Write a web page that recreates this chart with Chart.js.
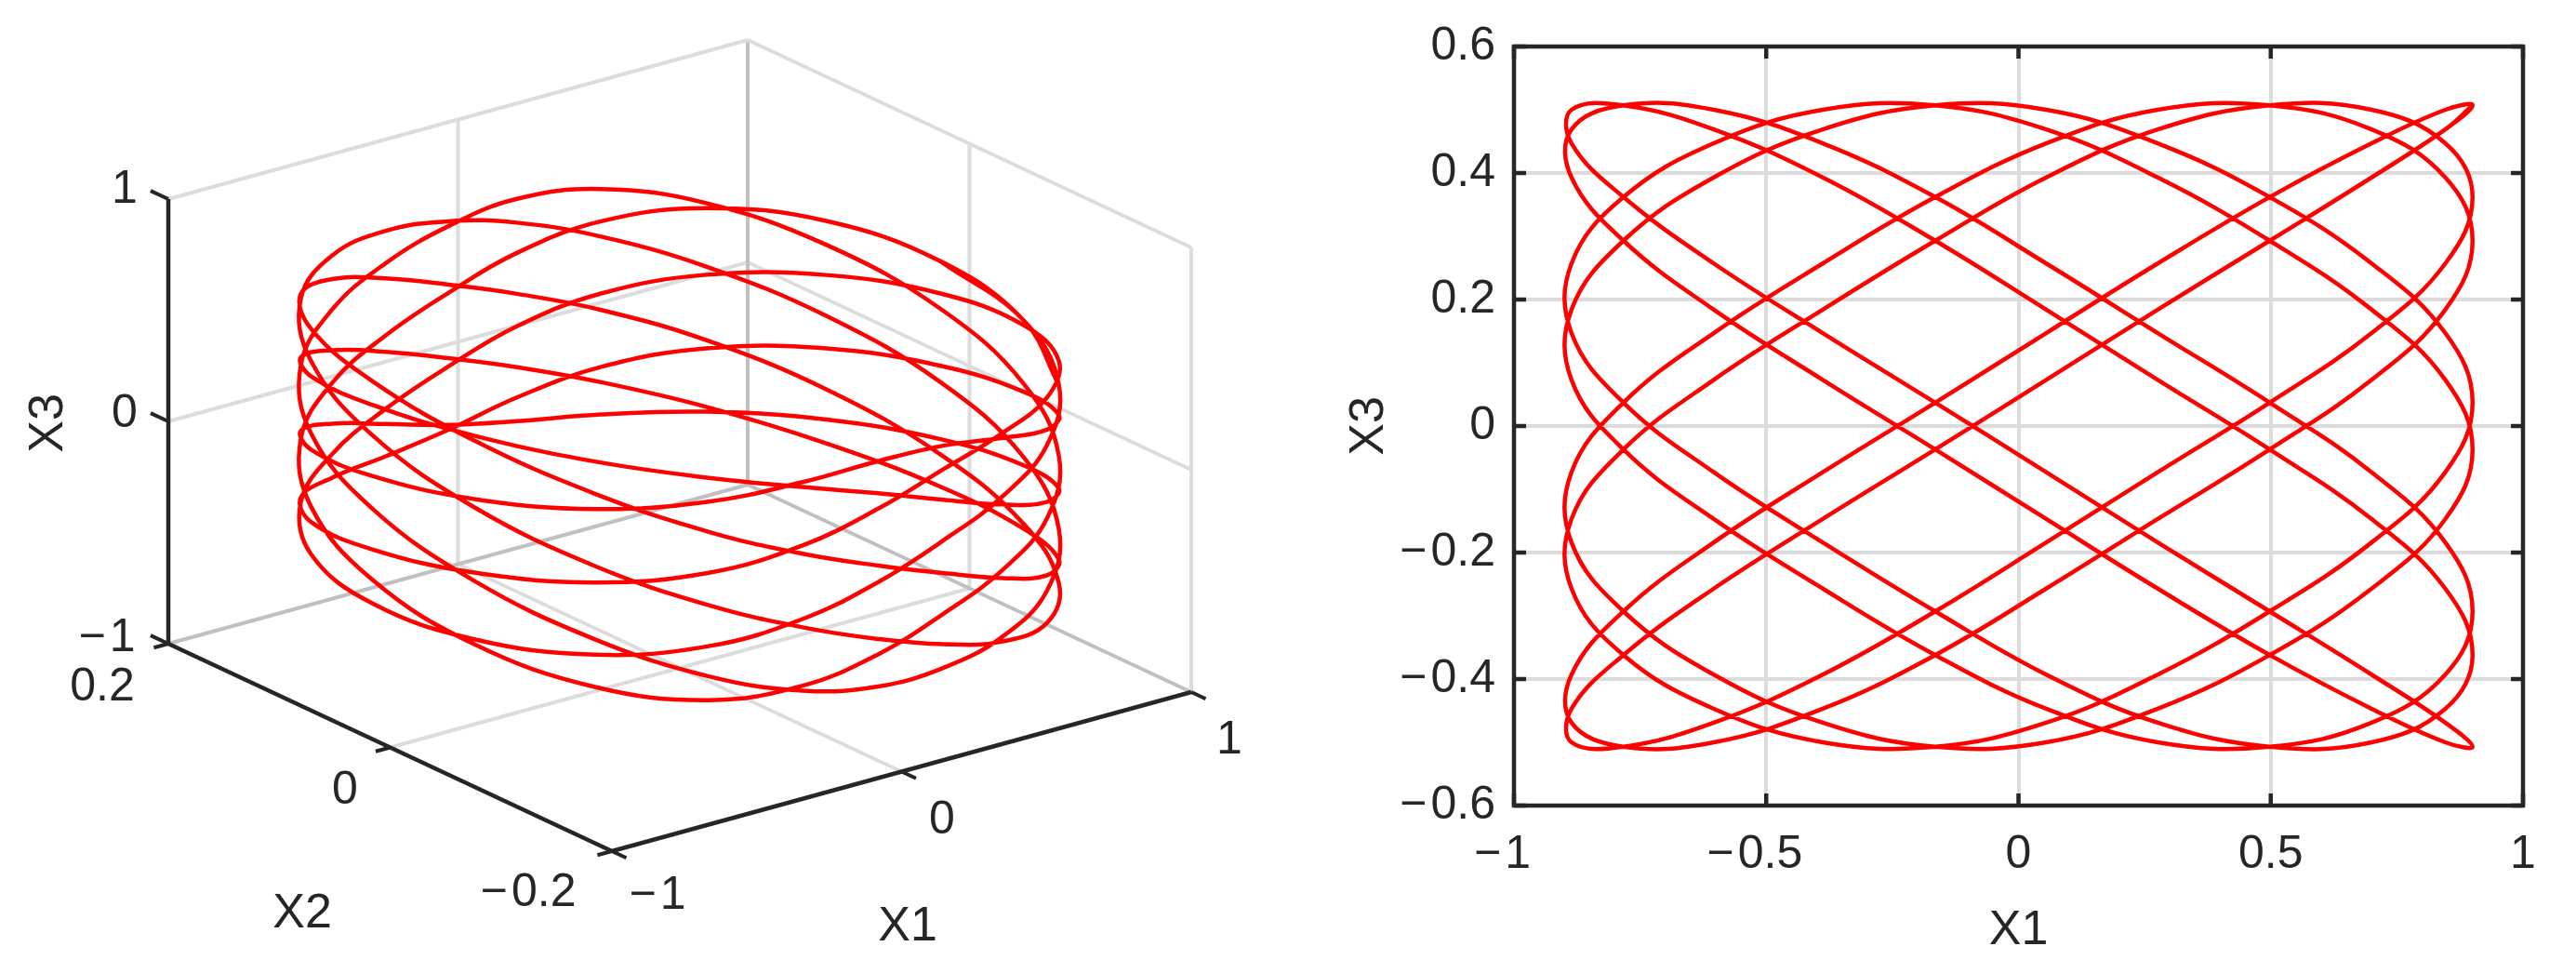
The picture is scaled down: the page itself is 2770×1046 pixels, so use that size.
<!DOCTYPE html>
<html>
<head>
<meta charset="utf-8">
<style>
  html, body { margin: 0; padding: 0; background: #fff; width: 2770px; height: 1046px; overflow: hidden; }
  canvas { position: absolute; top: 0; }
  #left3d { left: 0; }
  #right2d { left: 1385px; }
</style>
<script src="https://cdn.jsdelivr.net/npm/chart.js@4"></script>
</head>
<body>
<canvas id="left3d" width="1385" height="1046"></canvas>
<canvas id="right2d" width="1385" height="1046"></canvas>
<script>
// trajectory
const x1Values = [
  0.9,0.846,0.7,0.498,0.276,0.055,-0.165,-0.388,-0.604,-0.783,-0.886,-0.886,-0.783,-0.604,-0.388,-0.165,0.055,0.276,0.498,0.7,0.846,
  0.9,0.846,0.7,0.498,0.276,0.055,-0.165,-0.388,-0.604,-0.783,-0.886,-0.886,-0.783,-0.604,-0.388,-0.165,0.055,0.276,0.498,0.7,0.846,
  0.9,0.846,0.7,0.498,0.276,0.055,-0.165,-0.388,-0.604,-0.783,-0.886,-0.886,-0.783,-0.604,-0.388,-0.165,0.055,0.276,0.498,0.7,0.846,
  0.9,0.846,0.7,0.498,0.276,0.055,-0.165,-0.388,-0.604,-0.783,-0.886,-0.886,-0.783,-0.604,-0.388,-0.165,0.055,0.276,0.498,0.7,0.846,
  0.9,0.846,0.7,0.498,0.276,0.055,-0.165,-0.388,-0.604,-0.783,-0.886,-0.886,-0.783,-0.604,-0.388,-0.165,0.055,0.276,0.498,0.7,0.846,
  0.9,0.846,0.7,0.498,0.276,0.055,-0.165,-0.388,-0.604,-0.783,-0.886,-0.886,-0.783,-0.604,-0.388,-0.165,0.055,0.276,0.498,0.7,0.846,
  0.9,0.846,0.7,0.498,0.276,0.055,-0.165,-0.388,-0.604,-0.783,-0.886,-0.886,-0.783,-0.604,-0.388,-0.165,0.055,0.276,0.498,0.7,0.846,
  0.9,0.846,0.7,0.498,0.276,0.055,-0.165,-0.388,-0.604,-0.783,-0.886,-0.886,-0.783,-0.604,-0.388,-0.165,0.055,0.276,0.498,0.7,0.846
];
const x2Values = [
  0,-0.089,-0.159,-0.201,-0.219,-0.223,-0.222,-0.212,-0.184,-0.128,-0.046,0.046,0.128,0.184,0.212,0.222,0.223,0.219,0.201,0.159,0.089,
  0,-0.089,-0.159,-0.201,-0.219,-0.223,-0.222,-0.212,-0.184,-0.128,-0.046,0.046,0.128,0.184,0.212,0.222,0.223,0.219,0.201,0.159,0.089,
  0,-0.089,-0.159,-0.201,-0.219,-0.223,-0.222,-0.212,-0.184,-0.128,-0.046,0.046,0.128,0.184,0.212,0.222,0.223,0.219,0.201,0.159,0.089,
  0,-0.089,-0.159,-0.201,-0.219,-0.223,-0.222,-0.212,-0.184,-0.128,-0.046,0.046,0.128,0.184,0.212,0.222,0.223,0.219,0.201,0.159,0.089,
  0,-0.089,-0.159,-0.201,-0.219,-0.223,-0.222,-0.212,-0.184,-0.128,-0.046,0.046,0.128,0.184,0.212,0.222,0.223,0.219,0.201,0.159,0.089,
  0,-0.089,-0.159,-0.201,-0.219,-0.223,-0.222,-0.212,-0.184,-0.128,-0.046,0.046,0.128,0.184,0.212,0.222,0.223,0.219,0.201,0.159,0.089,
  0,-0.089,-0.159,-0.201,-0.219,-0.223,-0.222,-0.212,-0.184,-0.128,-0.046,0.046,0.128,0.184,0.212,0.222,0.223,0.219,0.201,0.159,0.089,
  0,-0.089,-0.159,-0.201,-0.219,-0.223,-0.222,-0.212,-0.184,-0.128,-0.046,0.046,0.128,0.184,0.212,0.222,0.223,0.219,0.201,0.159,0.089
];
const x3Values = [
  0.507,0.469,0.393,0.293,0.184,0.073,-0.037,-0.147,-0.257,-0.362,-0.447,-0.5,-0.507,-0.469,-0.393,-0.293,-0.184,-0.073,0.037,0.147,0.257,0.362,0.447,0.5,
  0.507,0.469,0.393,0.293,0.184,0.073,-0.037,-0.147,-0.257,-0.362,-0.447,-0.5,-0.507,-0.469,-0.393,-0.293,-0.184,-0.073,0.037,0.147,0.257,0.362,0.447,0.5,
  0.507,0.469,0.393,0.293,0.184,0.073,-0.037,-0.147,-0.257,-0.362,-0.447,-0.5,-0.507,-0.469,-0.393,-0.293,-0.184,-0.073,0.037,0.147,0.257,0.362,0.447,0.5,
  0.507,0.469,0.393,0.293,0.184,0.073,-0.037,-0.147,-0.257,-0.362,-0.447,-0.5,-0.507,-0.469,-0.393,-0.293,-0.184,-0.073,0.037,0.147,0.257,0.362,0.447,0.5,
  0.507,0.469,0.393,0.293,0.184,0.073,-0.037,-0.147,-0.257,-0.362,-0.447,-0.5,-0.507,-0.469,-0.393,-0.293,-0.184,-0.073,0.037,0.147,0.257,0.362,0.447,0.5,
  0.507,0.469,0.393,0.293,0.184,0.073,-0.037,-0.147,-0.257,-0.362,-0.447,-0.5,-0.507,-0.469,-0.393,-0.293,-0.184,-0.073,0.037,0.147,0.257,0.362,0.447,0.5,
  0.507,0.469,0.393,0.293,0.184,0.073,-0.037,-0.147,-0.257,-0.362,-0.447,-0.5,-0.507,-0.469,-0.393,-0.293,-0.184,-0.073,0.037,0.147,0.257,0.362,0.447,0.5
];

const x1Ticks3d = [-1, 0, 1];
const x2Ticks3d = [-0.2, 0, 0.2];
const x3Ticks3d = [-1, 0, 1];
const x1Ticks2d = [-1, -0.5, 0, 0.5, 1];
const x3Ticks2d = [-0.6, -0.4, -0.2, 0, 0.2, 0.4, 0.6];

const RED = '#ff0000';
const INK = '#262626';
const GRID = '#dcdcdc';
const GRID_DARK = '#c0c0c0';
const FONT = '"Liberation Sans", Arial, sans-serif';

Chart.defaults.font.family = FONT;
Chart.defaults.color = INK;
Chart.defaults.animation = false;

// minus with a small gap after it, as in the original labels
const fmt = v => String(v).replace('-', '\u2212\u200a');
// negative labels on the x axis sit a little left of their tick
const fmtX = v => (v < 0 ? fmt(v) + '\u2002' : fmt(v));

// 3d view: corners of the box as they sit on the page
function project(x1, x2, x3) {
  const a = (x1 + 1) / 2, b = (x2 + 0.2) / 0.4, c = (x3 + 1) / 2;
  return {
    x: 658 + a * 623 - b * 477,
    y: 915 - a * 171 - b * 223 - c * 478
  };
}

function edge(p, q, color, width) {
  return {
    data: [project(...p), project(...q)],
    borderColor: color,
    borderWidth: width,
    pointRadius: 0,
    tension: 0,
    showLine: true,
    order: 5
  };
}

const boxLines = [
  // walls and floor
  edge([-1, 0.2, 1], [1, 0.2, 1], GRID, 4),
  edge([1, 0.2, 1], [1, -0.2, 1], GRID, 4),
  edge([1, -0.2, -1], [1, -0.2, 1], GRID, 4),
  edge([1, 0.2, -1], [1, 0.2, 1], GRID_DARK, 4),
  edge([-1, 0.2, -1], [1, 0.2, -1], GRID_DARK, 4),
  edge([1, 0.2, -1], [1, -0.2, -1], GRID_DARK, 4)
];
x1Ticks3d.slice(1, 2).forEach(v => {
  boxLines.push(edge([v, 0.2, -1], [v, 0.2, 1], GRID, 4));
  boxLines.push(edge([v, 0.2, -1], [v, -0.2, -1], GRID, 4));
});
x2Ticks3d.slice(1, 2).forEach(v => {
  boxLines.push(edge([1, v, -1], [1, v, 1], GRID, 4));
  boxLines.push(edge([-1, v, -1], [1, v, -1], GRID, 4));
});
x3Ticks3d.slice(1, 2).forEach(v => {
  boxLines.push(edge([-1, 0.2, v], [1, 0.2, v], GRID, 4));
  boxLines.push(edge([1, 0.2, v], [1, -0.2, v], GRID, 4));
});

// axes in front
const axisLines = [
  edge([-1, 0.2, -1], [-1, 0.2, 1], INK, 4.5),
  edge([-1, 0.2, -1], [-1, -0.2, -1], INK, 4.5),
  edge([-1, -0.2, -1], [1, -0.2, -1], INK, 4.5)
];
x3Ticks3d.forEach(v => axisLines.push(edge([-1, 0.2, v], [-1, 0.216, v], INK, 4)));
x2Ticks3d.forEach(v => axisLines.push(edge([-1, v, -1], [-1.05, v, -1], INK, 4)));
x1Ticks3d.forEach(v => axisLines.push(edge([v, -0.2, -1], [v, -0.213, -1], INK, 4)));

const closeLoop = a => a.concat(a.slice(0, 3));

const curve3d = closeLoop(x1Values.map((v, i) => project(v, x2Values[i], x3Values[i])));
const curve2d = closeLoop(x1Values.map((v, i) => ({ x: v, y: x3Values[i] })));

// text of the 3d panel, in page pixels
const labels3d = [
  { text: x3Ticks3d[2], x: 134, y: 204, size: 50 },
  { text: x3Ticks3d[1], x: 134, y: 445, size: 50 },
  { text: x3Ticks3d[0], x: 115, y: 686, size: 50 },
  { text: x2Ticks3d[2], x: 110, y: 739, size: 50 },
  { text: x2Ticks3d[1], x: 371, y: 850, size: 50 },
  { text: x2Ticks3d[0], x: 568, y: 960, size: 50 },
  { text: x1Ticks3d[0], x: 707, y: 963, size: 50 },
  { text: x1Ticks3d[1], x: 1013, y: 882, size: 50 },
  { text: x1Ticks3d[2], x: 1322, y: 796, size: 50 },
  { text: 'X2', x: 325, y: 983, size: 52 },
  { text: 'X1', x: 976, y: 997, size: 52 },
  { text: 'X3', x: 53, y: 455, size: 52, rotate: true }
];

const text3dPlugin = {
  id: 'text3d',
  afterDraw(chart) {
    const ctx = chart.ctx;
    const sx = chart.scales.x, sy = chart.scales.y;
    ctx.save();
    ctx.fillStyle = INK;
    ctx.textAlign = 'center';
    ctx.textBaseline = 'middle';
    labels3d.forEach(l => {
      ctx.save();
      ctx.font = l.size + 'px ' + FONT;
      ctx.translate(sx.getPixelForValue(l.x), sy.getPixelForValue(l.y));
      if (l.rotate) ctx.rotate(-Math.PI / 2);
      ctx.fillText(fmt(l.text), 0, 0);
      ctx.restore();
    });
    ctx.restore();
  }
};

new Chart(document.getElementById('left3d'), {
  type: 'scatter',
  data: {
    datasets: [
      { data: curve3d, borderColor: RED, borderWidth: 4.5, pointRadius: 0, showLine: true, tension: 0.4, order: 1 },
      ...axisLines.map(d => ({ ...d, order: 2 })),
      ...boxLines
    ]
  },
  options: {
    responsive: false,
    devicePixelRatio: 1,
    layout: { padding: 0 },
    plugins: { legend: { display: false }, tooltip: { enabled: false } },
    elements: { line: { capBezierPoints: false } },
    scales: {
      x: { type: 'linear', min: 0, max: 1385, display: false },
      y: { type: 'linear', min: 0, max: 1046, reverse: true, display: false }
    }
  },
  plugins: [text3dPlugin]
});

// frame and inward ticks of the flat panel
const framePlugin = {
  id: 'frame',
  afterDatasetsDraw(chart) {
    const { ctx, chartArea: a, scales } = chart;
    const len = 13;
    ctx.save();
    ctx.strokeStyle = INK;
    ctx.lineWidth = 4.5;
    ctx.strokeRect(a.left, a.top, a.right - a.left, a.bottom - a.top);
    ctx.beginPath();
    x1Ticks2d.forEach(v => {
      const p = scales.x.getPixelForValue(v);
      ctx.moveTo(p, a.bottom); ctx.lineTo(p, a.bottom - len);
      ctx.moveTo(p, a.top); ctx.lineTo(p, a.top + len);
    });
    x3Ticks2d.forEach(v => {
      const p = scales.y.getPixelForValue(v);
      ctx.moveTo(a.left, p); ctx.lineTo(a.left + len, p);
      ctx.moveTo(a.right, p); ctx.lineTo(a.right - len, p);
    });
    ctx.stroke();
    ctx.restore();
  }
};

new Chart(document.getElementById('right2d'), {
  type: 'scatter',
  data: {
    datasets: [
      { data: curve2d, borderColor: RED, borderWidth: 4.5, pointRadius: 0, showLine: true, tension: 0.4 }
    ]
  },
  options: {
    responsive: false,
    devicePixelRatio: 1,
    layout: { padding: { top: 48, right: 57, left: 56, bottom: 0 } },
    plugins: { legend: { display: false }, tooltip: { enabled: false } },
    elements: { line: { capBezierPoints: false } },
    scales: {
      x: {
        type: 'linear', min: -1, max: 1,
        afterBuildTicks: s => { s.ticks = x1Ticks2d.map(v => ({ value: v })); },
        afterFit: s => { s.height = 180; },
        grid: { color: GRID, lineWidth: 4, drawTicks: false },
        border: { display: false },
        ticks: { callback: fmtX, font: { size: 50 }, color: INK, padding: 23, maxRotation: 0, autoSkip: false },
        title: { display: true, text: 'X1', font: { size: 52 }, color: INK, padding: { top: 10, bottom: 14 } }
      },
      y: {
        type: 'linear', min: -0.6, max: 0.6,
        afterBuildTicks: s => { s.ticks = x3Ticks2d.map(v => ({ value: v })); },
        afterFit: s => { s.width = 187; },
        grid: { color: GRID, lineWidth: 4, drawTicks: false },
        border: { display: false },
        ticks: { callback: fmt, font: { size: 50 }, color: INK, padding: 20, autoSkip: false },
        title: { display: true, text: 'X3', font: { size: 52 }, color: INK, padding: { top: 0, bottom: 0 } }
      }
    }
  },
  plugins: [framePlugin]
});
</script>
</body>
</html>
